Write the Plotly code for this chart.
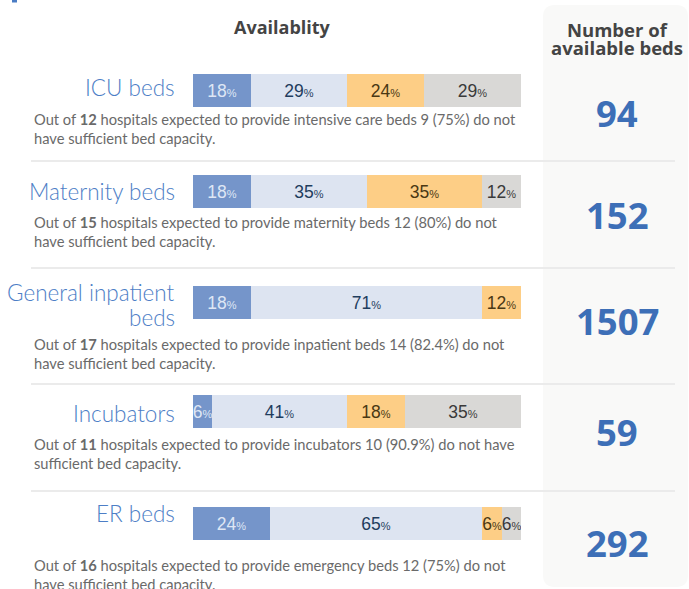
import plotly.graph_objects as go

W, H = 689, 589

# ---------------- data ----------------
categories = ["ICU beds", "Maternity beds", "General inpatient<br>beds", "Incubators", "ER beds"]
seg_names = ["Group 1", "Group 2", "Group 3", "Group 4"]
seg1 = [17.6, 17.6, 17.6, 5.9, 23.5]
seg2 = [29.4, 35.3, 70.6, 41.2, 64.7]
seg3 = [23.5, 35.3, 11.8, 17.6, 5.9]
seg4 = [29.4, 11.8, 0.0, 35.3, 5.9]
hospitals = [12, 15, 17, 11, 16]
descriptions = [
    "Out of <b>12</b> hospitals expected to provide intensive care beds 9 (75%) do not<br>have sufficient bed capacity.",
    "Out of <b>15</b> hospitals expected to provide maternity beds 12 (80%) do not<br>have sufficient bed capacity.",
    "Out of <b>17</b> hospitals expected to provide inpatient beds 14 (82.4%) do not<br>have sufficient bed capacity.",
    "Out of <b>11</b> hospitals expected to provide incubators 10 (90.9%) do not have<br>sufficient bed capacity.",
    "Out of <b>16</b> hospitals expected to provide emergency beds 12 (75%) do not<br>have sufficient bed capacity.",
]
available_beds = [94, 152, 1507, 59, 292]

# ---------------- styles ----------------
seg_colors = ["#7595ca", "#dde4f1", "#fdce86", "#d9d8d6"]
seg_text_colors = ["#dfe7f5", "#1f3d5e", "#4a3814", "#3a3a3a"]
label_blue = "#4d7ec6"
num_blue = "#3d6fb7"

# layout positions (px)
bar_top = [74, 175, 286, 395, 507]
bar_h = 33
label_y = [88, 191, 304.5, 413, 513]
label_line_gap = 25
desc_y = [129, 232, 353, 453, 574]
num_y = [113, 215, 321, 432, 543]
sep_y = [161, 268, 384, 491]
bar_x0, bar_x1 = 193, 521


def px_x(x):
    return x / W


def px_y(y):
    return 1 - y / H


fig = go.Figure()
layout_axes = {}
for i, cat in enumerate(categories):
    ax = "" if i == 0 else str(i + 1)
    for j, seg in enumerate([seg1, seg2, seg3, seg4]):
        v = seg[i]
        txt = f"{round(v)}<span style='font-size:11px'>%</span>" if v > 0 else ""
        fig.add_trace(go.Bar(
            x=[v], y=[cat], orientation="h", name=seg_names[j],
            marker=dict(color=seg_colors[j], line=dict(width=0)),
            text=[txt], textposition="inside", insidetextanchor="middle",
            textangle=0, constraintext="none",
            textfont=dict(family="Liberation Sans, Arial", size=17.5, color=seg_text_colors[j]),
            width=1, showlegend=False, hoverinfo="skip",
            xaxis="x" + ax, yaxis="y" + ax,
        ))
    layout_axes["xaxis" + ax] = dict(domain=[px_x(bar_x0), px_x(bar_x1)], range=[0, 100],
                                     visible=False, anchor="y" + ax, fixedrange=True)
    layout_axes["yaxis" + ax] = dict(domain=[px_y(bar_top[i] + bar_h), px_y(bar_top[i])],
                                     range=[-0.5, 0.5], visible=False, anchor="x" + ax,
                                     fixedrange=True)

annotations = []
# column headers
annotations.append(dict(x=px_x(282), y=px_y(27), xref="paper", yref="paper", text="<b>Availablity</b>",
                        showarrow=False, xanchor="center", yanchor="middle",
                        font=dict(family="Open Sans", size=18, color="#444444")))
for k, line in enumerate(["Number of", "available beds"]):
    annotations.append(dict(x=px_x(617), y=px_y(29 + 19 * k), xref="paper", yref="paper",
                            text=f"<b>{line}</b>",
                            showarrow=False, xanchor="center", yanchor="middle",
                            font=dict(family="Open Sans", size=18.5, color="#444444")))
for i, cat in enumerate(categories):
    lines = cat.split("<br>")
    n = len(lines)
    for k, line in enumerate(lines):
        yy = label_y[i] + (k - (n - 1) / 2) * label_line_gap
        annotations.append(dict(x=px_x(177), y=px_y(yy), xref="paper", yref="paper", text=line,
                                showarrow=False, xanchor="right", yanchor="middle", align="right",
                                font=dict(family="Lato Light, Lato", size=22.5, color=label_blue,
                                          weight=300)))
    annotations.append(dict(x=px_x(31.5), y=px_y(desc_y[i]), xref="paper", yref="paper",
                            text=descriptions[i], showarrow=False, xanchor="left", yanchor="middle",
                            align="left",
                            font=dict(family="Lato", size=14.7, color="#6a6a6a")))
    annotations.append(dict(x=px_x(617), y=px_y(num_y[i]), xref="paper", yref="paper",
                            text=f"<b>{available_beds[i]}</b>", showarrow=False,
                            xanchor="center", yanchor="middle",
                            font=dict(family="Open Sans", size=36.5, color=num_blue)))

# rounded panel
x0, x1, y0, y1, r = 543, 688, 5, 587, 12
rx, ry = r / W, r / H
X0, X1, Y0, Y1 = px_x(x0), px_x(x1), px_y(y1), px_y(y0)
path = (f"M {X0+rx},{Y1} L {X1-rx},{Y1} Q {X1},{Y1} {X1},{Y1-ry} "
        f"L {X1},{Y0+ry} Q {X1},{Y0} {X1-rx},{Y0} L {X0+rx},{Y0} Q {X0},{Y0} {X0},{Y0+ry} "
        f"L {X0},{Y1-ry} Q {X0},{Y1} {X0+rx},{Y1} Z")
shapes = [dict(type="path", path=path, xref="paper", yref="paper",
               fillcolor="#f9f9f8", line=dict(width=0), layer="below")]
for sy in sep_y:
    shapes.append(dict(type="line", x0=px_x(31), x1=px_x(675), y0=px_y(sy), y1=px_y(sy),
                       xref="paper", yref="paper", line=dict(color="#ebebeb", width=2),
                       layer="below"))
shapes.append(dict(type="rect", x0=px_x(12), x1=px_x(17), y0=px_y(2.5), y1=px_y(0),
                   xref="paper", yref="paper", fillcolor="#4a7cc4", line=dict(width=0)))

fig.update_layout(
    width=W, height=H, margin=dict(l=0, r=0, t=0, b=0),
    paper_bgcolor="white", plot_bgcolor="rgba(0,0,0,0)",
    barmode="stack", bargap=0,
    annotations=annotations, shapes=shapes,
    **layout_axes,
)

fig.write_html("out.html", config={"displayModeBar": False})
